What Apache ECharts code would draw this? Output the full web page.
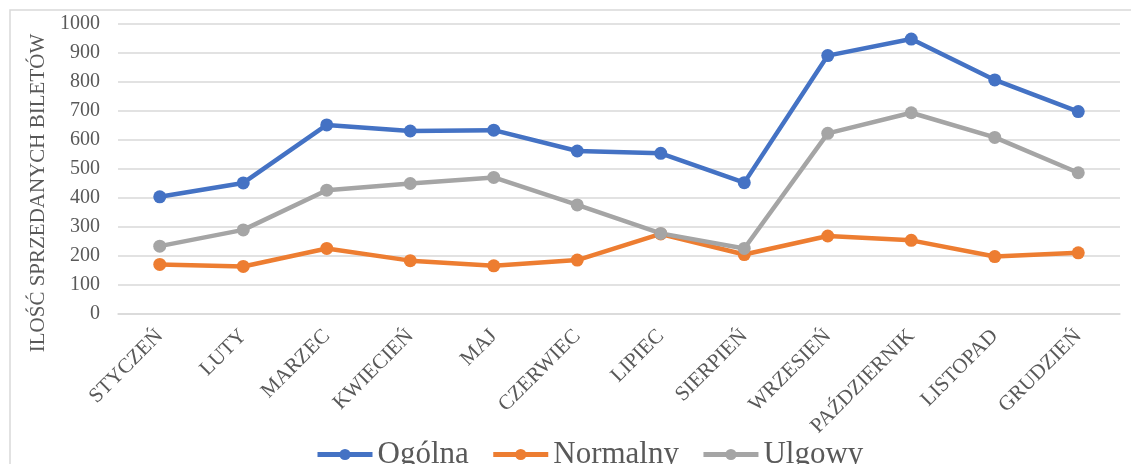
<!DOCTYPE html>
<html>
<head>
<meta charset="utf-8">
<style>
  html, body { margin: 0; padding: 0; background: #fff; }
  #chart { width: 1131px; height: 464px; }
</style>
<script src="https://cdn.jsdelivr.net/npm/echarts@6/dist/echarts.min.js"></script>
</head>
<body>
<div id="chart"></div>
<script>
// dane
var months = ['STYCZEŃ', 'LUTY', 'MARZEC', 'KWIECIEŃ', 'MAJ', 'CZERWIEC', 'LIPIEC', 'SIERPIEŃ', 'WRZESIEŃ', 'PAŹDZIERNIK', 'LISTOPAD', 'GRUDZIEŃ']
var ogolna = [404, 452, 652, 631, 634, 562, 554, 453, 891, 948, 807, 698]
var normalny = [171, 164, 226, 184, 166, 186, 276, 205, 269, 254, 198, 211]
var ulgowy = [234, 290, 427, 450, 471, 376, 278, 226, 623, 694, 609, 487]

var font = '"Liberation Serif", "Times New Roman", serif'
var textColor = '#595959'

function lineSeries(name, data, color) {
  return {
    name: name,
    type: 'line',
    data: data,
    symbol: 'circle',
    symbolSize: 13,
    lineStyle: { width: 4.5, color: color },
    itemStyle: { color: color },
    animation: false
  }
}

var chart = echarts.init(document.getElementById('chart'))

chart.setOption({
  textStyle: { fontFamily: font },
  graphic: [
    {
      type: 'rect',
      shape: { x: 10, y: 10, width: 1200, height: 600 },
      style: { fill: 'none', stroke: '#d9d9d9', lineWidth: 1.5 },
      silent: true
    }
  ],
  legend: {
    top: 434,
    left: 310,
    itemWidth: 55,
    itemHeight: 14,
    itemGap: 22,
    lineStyle: { width: 5 },
    textStyle: { fontFamily: font, fontSize: 31, color: textColor },
    data: ['Ogólna', 'Normalny', 'Ulgowy']
  },
  grid: { left: 118, right: 11, top: 24, bottom: 150 },
  xAxis: {
    type: 'category',
    data: months,
    boundaryGap: true,
    axisLine: { show: true, lineStyle: { color: '#d9d9d9', width: 1.5 } },
    axisTick: { show: false },
    axisLabel: {
      rotate: 45,
      interval: 0,
      margin: 19,
      fontFamily: font,
      fontSize: 21,
      color: textColor
    }
  },
  yAxis: {
    type: 'value',
    min: 0,
    max: 1000,
    interval: 100,
    name: 'ILOŚĆ SPRZEDANYCH BILETÓW',
    nameLocation: 'middle',
    nameGap: 67,
    nameTextStyle: { fontFamily: font, fontSize: 21, color: textColor, padding: [0, 48, 0, 0] },
    axisLine: { show: false },
    axisTick: { show: false },
    axisLabel: {
      fontFamily: font,
      fontSize: 20,
      color: textColor,
      margin: 18,
      formatter: function (v) { return String(v) }
    },
    splitLine: { lineStyle: { color: '#d9d9d9', width: 1.5 } }
  },
  series: [
    lineSeries('Ogólna', ogolna, '#4472c4'),
    lineSeries('Normalny', normalny, '#ed7d31'),
    lineSeries('Ulgowy', ulgowy, '#a5a5a5')
  ]
})
</script>
</body>
</html>
